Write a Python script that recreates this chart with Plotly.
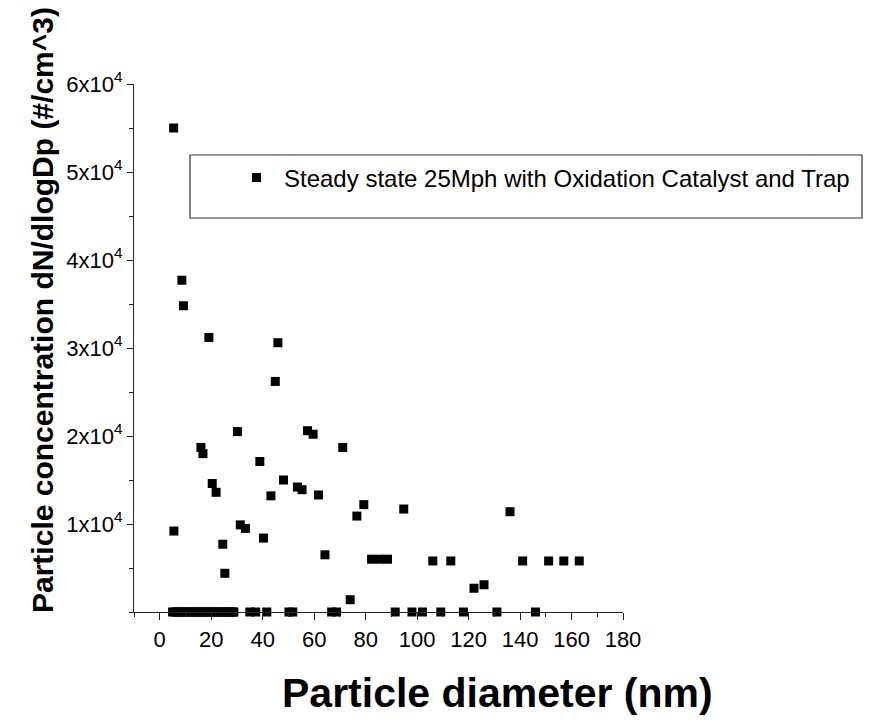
import plotly.graph_objects as go

# Particle diameter (nm) and concentration dN/dlogDp (#/cm^3)
diam_nonzero = [5.4, 8.6, 9.2, 19.1, 45.9, 44.9, 30.2, 57.4, 59.6, 71.1, 16.0, 16.8,
                38.9, 48.1, 20.4, 21.9, 43.2, 53.5, 55.3, 61.7, 79.3, 76.6, 94.8, 136.1,
                31.3, 33.3, 5.5, 40.3, 24.5, 64.2, 82.3, 85.6, 88.5, 106.1, 113.1, 141.0,
                151.1, 157.0, 163.0, 25.3, 122.1, 126.0, 74.0]
conc_nonzero = [55000, 37700, 34800, 31200, 30600, 26200, 20500, 20600, 20200, 18700, 18700, 18000,
                17100, 15000, 14600, 13600, 13200, 14200, 13900, 13300, 12200, 10900, 11700, 11400,
                9900, 9500, 9200, 8400, 7700, 6500, 6000, 6000, 6000, 5800, 5800, 5800,
                5800, 5800, 5800, 4400, 2700, 3100, 1400]

diam_zero = [5.0, 5.9, 6.8, 7.7, 8.6, 9.5, 10.4, 11.3, 12.2, 13.1, 14.0, 14.9, 15.8, 16.7,
             17.6, 18.5, 19.4, 20.3, 21.2, 22.1, 23.0, 23.9, 24.8, 25.7, 26.6, 27.5, 28.4, 28.8,
             35.0, 37.3, 41.6, 50.2, 51.7, 66.8, 68.7, 91.5, 98.0, 102.1, 109.2, 118.0,
             131.0, 146.0]
conc_zero = [0] * len(diam_zero)

diam = diam_nonzero + diam_zero
conc = conc_nonzero + conc_zero

x_ticks = [0, 20, 40, 60, 80, 100, 120, 140, 160, 180]
y_ticks = [10000, 20000, 30000, 40000, 50000, 60000]
y_ticktext = ["1x10<sup>4</sup>", "2x10<sup>4</sup>", "3x10<sup>4</sup>",
              "4x10<sup>4</sup>", "5x10<sup>4</sup>", "6x10<sup>4</sup>"]

series_name = "Steady state 25Mph with Oxidation Catalyst and Trap"
x_title = "Particle diameter (nm)"
y_title = "Particle concentration dN/dlogDp (#/cm^3)"

FONT = "Arial, Liberation Sans, sans-serif"

fig = go.Figure()
fig.add_trace(go.Scatter(
    x=diam, y=conc, mode="markers", name=series_name,
    marker=dict(symbol="square", size=9, color="black"),
    cliponaxis=False, showlegend=True,
))

fig.update_layout(
    width=882, height=720,
    margin=dict(l=134, r=259, t=84, b=108),
    plot_bgcolor="white", paper_bgcolor="white",
    font=dict(family=FONT, color="black", size=22),
    showlegend=True,
    legend=dict(
        x=(229 - 134) / 489, y=(612 - 178) / 528, xanchor="left", yanchor="middle",
        bgcolor="rgba(0,0,0,0)", borderwidth=0,
        font=dict(family=FONT, size=24, color="black"),
        itemwidth=45,
    ),
    xaxis=dict(
        range=[-10, 180], tickvals=x_ticks, ticktext=[str(v) for v in x_ticks],
        showline=True, linecolor="#222", linewidth=1.3, mirror=False,
        ticks="outside", ticklen=7, tickcolor="#222", tickwidth=1.3,
        minor=dict(dtick=10, tick0=0, ticks="outside", ticklen=4, tickcolor="#222", tickwidth=1.3),
        showgrid=False, zeroline=False,
        tickfont=dict(family=FONT, size=22, color="black"),
    ),
    yaxis=dict(
        range=[0, 60000], tickvals=y_ticks, ticktext=y_ticktext,
        showline=True, linecolor="#222", linewidth=1.3, mirror=False,
        ticks="outside", ticklen=6, tickcolor="#222", tickwidth=1.3,
        minor=dict(dtick=5000, tick0=0, ticks="outside", ticklen=4, tickcolor="#222", tickwidth=1.3),
        showgrid=False, zeroline=False,
        tickfont=dict(family=FONT, size=22, color="black"),
    ),
    shapes=[dict(
        type="rect", xref="paper", yref="paper",
        x0=(190 - 134) / 489, x1=(862 - 134) / 489,
        y0=(612 - 218) / 528, y1=(612 - 155) / 528,
        line=dict(color="#333", width=1.2), fillcolor="rgba(0,0,0,0)",
    )],
    annotations=[
        dict(text=x_title, xref="paper", yref="paper",
             x=(497 - 134) / 489, y=(612 - 693) / 528, xanchor="center", yanchor="middle",
             showarrow=False, font=dict(family=FONT, size=41, color="black", weight="bold")),
        dict(text=y_title, xref="paper", yref="paper", textangle=-90,
             x=(42 - 134) / 489, y=(612 - 310) / 528, xanchor="center", yanchor="middle",
             showarrow=False, font=dict(family=FONT, size=30, color="black", weight="bold")),
    ],
)

fig.write_html("out.html")
